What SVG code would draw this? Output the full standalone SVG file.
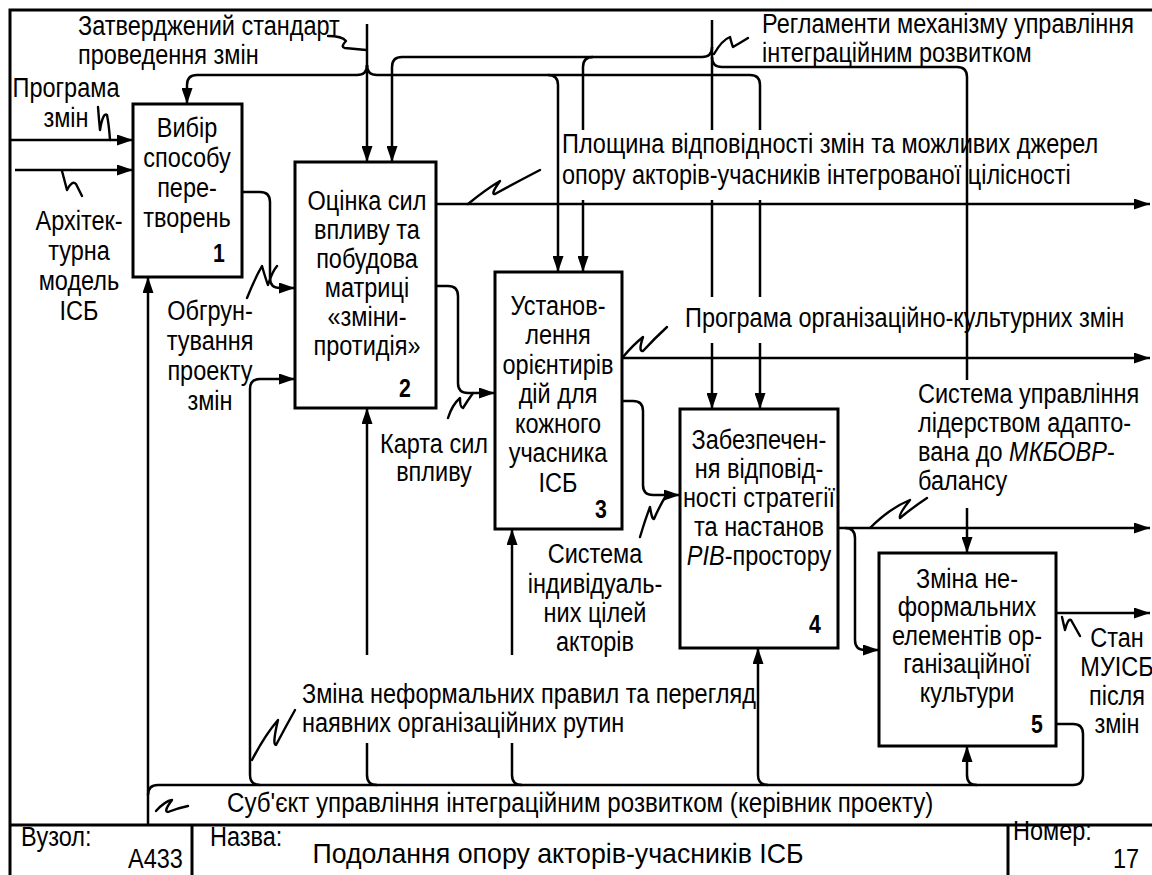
<svg xmlns="http://www.w3.org/2000/svg" width="1152" height="875" viewBox="0 0 1152 875">
<style>
text{font-family:"Liberation Sans",Arial,sans-serif;font-size:27px;fill:#000}
.c{text-anchor:middle}
.n{font-weight:bold;font-size:25px;text-anchor:middle}
.box{fill:#fff;stroke:#000;stroke-width:3}
.ln{fill:none;stroke:#000;stroke-width:2.5}
.sq{fill:none;stroke:#000;stroke-width:2.4;stroke-linecap:round;stroke-linejoin:round}
.a{marker-end:url(#ah)}
.i{font-style:italic}
</style>
<defs>
<marker id="ah" markerUnits="userSpaceOnUse" markerWidth="16" markerHeight="11" refX="16" refY="5.5" orient="auto">
<path d="M0,0 L16,5.5 L0,11 z" fill="#000"/>
</marker>
</defs>
<rect width="1152" height="875" fill="#fff"/>
<g id="frame" fill="none" stroke="#000" stroke-width="3">
<path d="M10,875 V10 H1152"/>
<path d="M10,825 H1152 M192,825 V875 M1008,825 V875"/>
</g>
<g id="connectors" class="ln">
<path class="a" d="M10,140 H133"/>
<path class="a" d="M15,170 H133"/>
<path class="a" d="M367,24 V162"/>
<path class="a" d="M367,65 Q367,75 357,75 H197 Q187,75 187,85 V104"/>
<path d="M367,65 Q367,75 377,75 H750 Q760,75 760,85 V130"/>
<path d="M760,200 V297"/>
<path class="a" d="M760,343 V409"/>
<path class="a" d="M548,75 Q558,75 558,85 V272"/>
<path d="M712,20 V130"/>
<path d="M712,200 V297"/>
<path class="a" d="M712,343 V409"/>
<path class="a" d="M712,47 Q712,57 702,57 H402 Q392,57 392,67 V162"/>
<path d="M593,57 Q583,57 583,67 V130"/>
<path class="a" d="M583,200 V272"/>
<path d="M712,57 Q712,67 722,67 H957 Q967,67 967,77 V380"/>
<path class="a" d="M967,508 V553"/>
<path class="a" d="M242,192 H260 Q270,192 270,202 V278 Q270,288 280,288 H295"/>
<path class="a" d="M436,204 H1150"/>
<path class="a" d="M436,286 H448 Q458,286 458,296 V383 Q458,393 468,393 H495"/>
<path class="a" d="M622,358 H1150"/>
<path class="a" d="M622,401 H633 Q643,401 643,411 V485 Q643,495 653,495 H680"/>
<path class="a" d="M838,528 H1150"/>
<path class="a" d="M845,528 Q855,528 855,538 V640 Q855,650 865,650 H879"/>
<path class="a" d="M1056,613 H1150"/>
<path class="a" d="M148,825 V277"/>
<path d="M148,795 Q148,785 158,785 H1073 Q1083,785 1083,775 V734 Q1083,724 1073,724 H1056"/>
<path class="a" d="M977,785 Q967,785 967,775 V746"/>
<path class="a" d="M768,785 Q758,785 758,775 V648"/>
<path d="M522,785 Q512,785 512,775 V743"/>
<path class="a" d="M512,655 V529"/>
<path d="M377,785 Q367,785 367,775 V743"/>
<path class="a" d="M367,655 V408"/>
<path class="a" d="M260,785 Q250,785 250,775 V389 Q250,379 260,379 H295"/>
<g class="sq">
<path d="M328,36 Q342,36 346,41 Q340,47 345,48 L366,50"/>
<path d="M714,54 Q722,40 730,37 Q732,45 733,47 Q740,43 748,38"/>
<path d="M98,107 Q99,120 100,130 Q103,112 107,115 Q109,125 110,140"/>
<path d="M62,171 L67,190 Q72,180 76,184 L82,196"/>
<path d="M247,298 Q255,278 262,266 Q266,280 268,285 Q272,272 277,266"/>
<path d="M468,204 Q485,190 500,181 Q490,195 495,194 Q515,183 540,170"/>
<path d="M623,357 Q633,345 643,337 Q638,352 643,351 Q655,338 667,327"/>
<path d="M448,418 Q452,405 460,398 Q460,408 463,408 Q468,400 473,393"/>
<path d="M640,537 Q645,520 650,507 Q652,520 654,519 Q660,505 667,494"/>
<path d="M870,528 Q890,508 910,500 Q898,515 900,518 Q912,508 927,498"/>
<path d="M1062,617 L1065,630 Q1068,618 1071,620 L1080,636"/>
<path d="M252,760 Q265,735 278,720 Q272,745 276,745 Q285,728 295,710"/>
<path d="M156,811 Q165,801 172,800 Q163,812 168,812 Q178,808 188,806"/>
</g>
</g>
<g id="node1">
<rect class="box" x="133" y="104" width="109" height="173"/>
<text class="c" transform="translate(187,137) scale(0.87,1)"><tspan x="0">Вибір</tspan><tspan x="0" dy="30">способу</tspan><tspan x="0" dy="30">пере-</tspan><tspan x="0" dy="30">творень</tspan></text>
<text class="n" transform="translate(219,262) scale(0.85,1)">1</text>
</g>
<g id="node2">
<rect class="box" x="295" y="162" width="141" height="246"/>
<text class="c" transform="translate(367,210) scale(0.87,1)"><tspan x="0">Оцінка сил</tspan><tspan x="0" dy="29">впливу та</tspan><tspan x="0" dy="29">побудова</tspan><tspan x="0" dy="29">матриці</tspan><tspan x="0" dy="29">«зміни-</tspan><tspan x="0" dy="29">протидія»</tspan></text>
<text class="n" transform="translate(405,397) scale(0.85,1)">2</text>
</g>
<g id="node3">
<rect class="box" x="495" y="272" width="127" height="257"/>
<text class="c" transform="translate(558,315) scale(0.87,1)"><tspan x="0">Установ-</tspan><tspan x="0" dy="29.5">лення</tspan><tspan x="0" dy="29.5">орієнтирів</tspan><tspan x="0" dy="29.5">дій для</tspan><tspan x="0" dy="29.5">кожного</tspan><tspan x="0" dy="29.5">учасника</tspan><tspan x="0" dy="29.5">ІСБ</tspan></text>
<text class="n" transform="translate(601,518) scale(0.85,1)">3</text>
</g>
<g id="node4">
<rect class="box" x="680" y="409" width="158" height="239"/>
<text class="c" transform="translate(759,449) scale(0.87,1)"><tspan x="0">Забезпечен-</tspan><tspan x="0" dy="29">ня відповід-</tspan><tspan x="0" dy="29">ності стратегії</tspan><tspan x="0" dy="29">та настанов</tspan><tspan x="0" dy="29"><tspan class="i">PIB</tspan>-простору</tspan></text>
<text class="n" transform="translate(815,633) scale(0.85,1)">4</text>
</g>
<g id="node5">
<rect class="box" x="879" y="553" width="177" height="193"/>
<text class="c" transform="translate(967,588) scale(0.87,1)"><tspan x="0">Зміна не-</tspan><tspan x="0" dy="28.5">формальних</tspan><tspan x="0" dy="28.5">елементів ор-</tspan><tspan x="0" dy="28.5">ганізаційної</tspan><tspan x="0" dy="28.5">культури</tspan></text>
<text class="n" transform="translate(1037,733) scale(0.85,1)">5</text>
</g>
<g id="labels">
<text transform="translate(78,35) scale(0.87,1)"><tspan x="0">Затверджений стандарт</tspan><tspan x="0" dy="29">проведення змін</tspan></text>
<text transform="translate(762,33) scale(0.87,1)"><tspan x="0">Регламенти механізму управління</tspan><tspan x="0" dy="29">інтеграційним розвитком</tspan></text>
<text class="c" transform="translate(66,97) scale(0.87,1)"><tspan x="0">Програма</tspan><tspan x="0" dy="30">змін</tspan></text>
<text class="c" transform="translate(79,230) scale(0.87,1)"><tspan x="0">Архітек-</tspan><tspan x="0" dy="30">турна</tspan><tspan x="0" dy="30">модель</tspan><tspan x="0" dy="30">ІСБ</tspan></text>
<text class="c" transform="translate(210,320) scale(0.87,1)"><tspan x="0">Обгрун-</tspan><tspan x="0" dy="30">тування</tspan><tspan x="0" dy="30">проекту</tspan><tspan x="0" dy="30">змін</tspan></text>
<text class="c" transform="translate(434,453) scale(0.87,1)"><tspan x="0">Карта сил</tspan><tspan x="0" dy="28">впливу</tspan></text>
<text transform="translate(562,153) scale(0.87,1)"><tspan x="0">Площина відповідності змін та можливих джерел</tspan><tspan x="0" dy="31">опору акторів-учасників інтегрованої цілісності</tspan></text>
<text transform="translate(685,327) scale(0.87,1)">Програма організаційно-культурних змін</text>
<text transform="translate(918,403) scale(0.87,1)"><tspan x="0">Система управління</tspan><tspan x="0" dy="29">лідерством адапто-</tspan><tspan x="0" dy="29">вана до <tspan class="i">МКБОВР</tspan>-</tspan><tspan x="0" dy="29">балансу</tspan></text>
<text class="c" transform="translate(595,563) scale(0.87,1)"><tspan x="0">Система</tspan><tspan x="0" dy="30">індивідуаль-</tspan><tspan x="0" dy="29">них цілей</tspan><tspan x="0" dy="29">акторів</tspan></text>
<text class="c" transform="translate(1117,647) scale(0.87,1)"><tspan x="0">Стан</tspan><tspan x="0" dy="29.5">МУІСБ</tspan><tspan x="0" dy="28.5">після</tspan><tspan x="0" dy="28">змін</tspan></text>
<text transform="translate(302,703) scale(0.87,1)"><tspan x="0">Зміна неформальних правил та перегляд</tspan><tspan x="0" dy="29">наявних організаційних рутин</tspan></text>
<text transform="translate(227,812) scale(0.894,1)">Суб'єкт управління інтеграційним розвитком (керівник проекту)</text>
</g>
<g id="title">
<text transform="translate(21,846) scale(0.87,1)">Вузол:</text>
<text transform="translate(128,868) scale(0.87,1)">A433</text>
<text transform="translate(210,846) scale(0.87,1)">Назва:</text>
<text class="c" transform="translate(558,863) scale(0.99,1)">Подолання опору акторів-учасників ІСБ</text>
<text transform="translate(1013,840) scale(0.87,1)">Номер:</text>
<text transform="translate(1113,868) scale(0.87,1)">17</text>
</g>
</svg>
